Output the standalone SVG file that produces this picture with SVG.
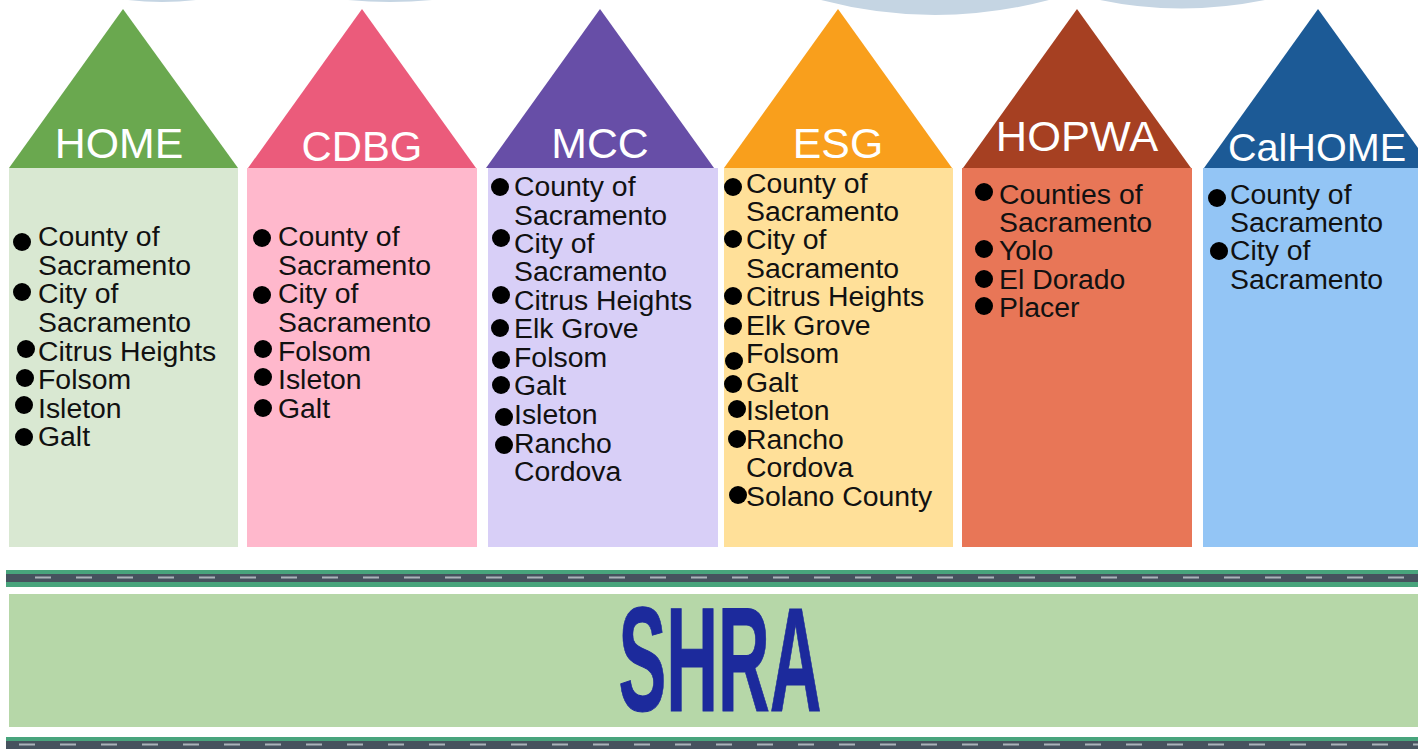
<svg xmlns="http://www.w3.org/2000/svg" width="1418" height="749" viewBox="0 0 1418 749">
<style>
text{font-family:"Liberation Sans",Arial,sans-serif;fill:#111}
.t{font-size:42.8px;fill:#fff;text-anchor:middle}
.l{font-size:28.4px}
.road{fill:#48a47c}
.asph{fill:#46525e}
.dash{stroke:#aab3ba;stroke-width:2;stroke-dasharray:16 25;fill:none}
</style>
<rect width="1418" height="749" fill="#fff"/>
<g id="clouds" fill="#c5d5e3">
<path d="M128 0Q162 4 196 0Z"/>
<path d="M348 0Q390 4 432 0Z"/>
<path d="M821 0Q935 30 1049 0Z"/>
<path d="M1100 0Q1180 17 1265 0Z"/>
</g>
<g id="home">
<rect x="9" y="168" width="229" height="379" fill="#d9e8d2"/>
<polygon points="9,168 123,9 238,168" fill="#6aa84f"/>
<text class="t" x="119" y="158">HOME</text>
<circle cx="22" cy="242" r="9"/><text class="l" x="38" y="246">County of</text><text class="l" x="38" y="275">Sacramento</text>
<circle cx="22" cy="292" r="9"/><text class="l" x="38" y="303">City of</text><text class="l" x="38" y="332">Sacramento</text>
<circle cx="26" cy="349" r="9"/><text class="l" x="38" y="361">Citrus Heights</text>
<circle cx="25" cy="378" r="9"/><text class="l" x="38" y="389">Folsom</text>
<circle cx="24" cy="405" r="9"/><text class="l" x="38" y="418">Isleton</text>
<circle cx="24" cy="437" r="9"/><text class="l" x="38" y="446">Galt</text>
</g>
<g id="cdbg">
<rect x="247" y="168" width="230" height="379" fill="#ffb8cc"/>
<polygon points="248,168 362,9 476,168" fill="#eb5b7b"/>
<text class="t" x="362" y="161" style="font-size:41.8px">CDBG</text>
<circle cx="262" cy="238" r="9"/><text class="l" x="278" y="246">County of</text><text class="l" x="278" y="275">Sacramento</text>
<circle cx="262" cy="295" r="9"/><text class="l" x="278" y="303">City of</text><text class="l" x="278" y="332">Sacramento</text>
<circle cx="263" cy="349" r="9"/><text class="l" x="278" y="361">Folsom</text>
<circle cx="263" cy="377" r="9"/><text class="l" x="278" y="389">Isleton</text>
<circle cx="263" cy="408" r="9"/><text class="l" x="278" y="418">Galt</text>
</g>
<g id="mcc">
<rect x="488" y="168" width="230" height="379" fill="#d8cff7"/>
<polygon points="486,168 600,9 714,168" fill="#674ea7"/>
<text class="t" x="600" y="158">MCC</text>
<circle cx="500" cy="187" r="9"/><text class="l" x="514" y="196">County of</text><text class="l" x="514" y="225">Sacramento</text>
<circle cx="501" cy="238" r="9"/><text class="l" x="514" y="253">City of</text><text class="l" x="514" y="281">Sacramento</text>
<circle cx="501" cy="295" r="9"/><text class="l" x="514" y="310">Citrus Heights</text>
<circle cx="500" cy="328" r="9"/><text class="l" x="514" y="338">Elk Grove</text>
<circle cx="501" cy="360" r="9"/><text class="l" x="514" y="367">Folsom</text>
<circle cx="501" cy="385" r="9"/><text class="l" x="514" y="395">Galt</text>
<circle cx="504" cy="417" r="9"/><text class="l" x="514" y="424">Isleton</text>
<circle cx="504" cy="445" r="9"/><text class="l" x="514" y="453">Rancho</text><text class="l" x="514" y="481">Cordova</text>
</g>
<g id="esg">
<rect x="724" y="168" width="229" height="379" fill="#ffe099"/>
<polygon points="724,168 838,9 952,168" fill="#f99f1c"/>
<text class="t" x="838" y="158">ESG</text>
<circle cx="733" cy="187" r="9"/><text class="l" x="746" y="193">County of</text><text class="l" x="746" y="221">Sacramento</text>
<circle cx="733" cy="239" r="9"/><text class="l" x="746" y="249">City of</text><text class="l" x="746" y="278">Sacramento</text>
<circle cx="733" cy="296" r="9"/><text class="l" x="746" y="306">Citrus Heights</text>
<circle cx="733" cy="326" r="9"/><text class="l" x="746" y="335">Elk Grove</text>
<circle cx="734" cy="361" r="9"/><text class="l" x="746" y="363">Folsom</text>
<circle cx="733" cy="384" r="9"/><text class="l" x="746" y="392">Galt</text>
<circle cx="737" cy="409" r="9"/><text class="l" x="746" y="420">Isleton</text>
<circle cx="737" cy="439" r="9"/><text class="l" x="746" y="449">Rancho</text><text class="l" x="746" y="477">Cordova</text>
<circle cx="738" cy="495" r="9"/><text class="l" x="746" y="506">Solano County</text>
</g>
<g id="hopwa">
<rect x="962" y="168" width="230" height="379" fill="#e87657"/>
<polygon points="963,168 1077,9 1191,168" fill="#a64022"/>
<text class="t" x="1077" y="151" style="font-size:43.4px">HOPWA</text>
<circle cx="984" cy="192" r="9"/><text class="l" x="999" y="204">Counties of</text><text class="l" x="999" y="232">Sacramento</text>
<circle cx="984" cy="249" r="9"/><text class="l" x="999" y="260">Yolo</text>
<circle cx="984" cy="279" r="9"/><text class="l" x="999" y="289">El Dorado</text>
<circle cx="984" cy="306" r="9"/><text class="l" x="999" y="317">Placer</text>
</g>
<g id="calhome">
<rect x="1203" y="168" width="215" height="379" fill="#93c5f5"/>
<polygon points="1204,168 1318,9 1418,148 1418,168" fill="#1c5a96"/>
<text class="t" x="1317" y="161" style="font-size:39.6px">CalHOME</text>
<circle cx="1217" cy="198" r="9"/><text class="l" x="1230" y="204">County of</text><text class="l" x="1230" y="232">Sacramento</text>
<circle cx="1219" cy="251" r="9"/><text class="l" x="1230" y="260">City of</text><text class="l" x="1230" y="289">Sacramento</text>
</g>
<g id="road1">
<rect x="6" y="570" width="1412" height="17" class="road"/>
<rect x="6" y="574" width="1412" height="8" class="asph"/>
<line x1="35" y1="577.5" x2="1418" y2="577.5" class="dash"/>
</g>
<g id="shra">
<rect x="9" y="594" width="1409" height="133" fill="#b6d7a8"/>
<text x="720" y="711" text-anchor="middle" font-size="148" font-weight="bold" stroke="#1c2a9c" stroke-width="1" style="fill:#1c2a9c;font-family:'Liberation Sans Narrow','Liberation Sans',sans-serif" textLength="203" lengthAdjust="spacingAndGlyphs">SHRA</text>
</g>
<g id="road2">
<rect x="6" y="737" width="1412" height="12" class="road"/>
<rect x="6" y="741" width="1412" height="8" class="asph"/>
<line x1="19" y1="744.5" x2="1418" y2="744.5" class="dash"/>
</g>
<g id="connectors"/>
</svg>
